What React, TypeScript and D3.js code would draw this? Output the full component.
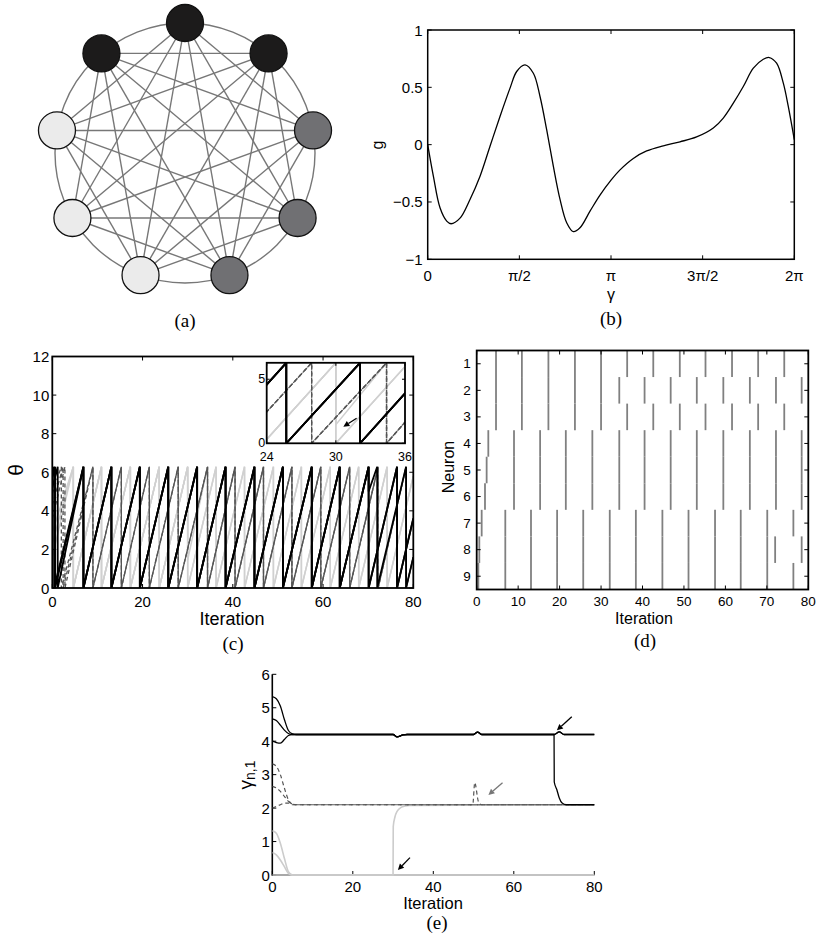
import React from "react";
import * as d3 from "d3";

const FONT = "'Liberation Sans', Arial, Helvetica, sans-serif";
const SERIF = "'Liberation Serif', 'Times New Roman', serif";
const TWO_PI = 2 * Math.PI;

// ---------- (a) network ----------
const nodeFills = ["#1c1b1b", "#1c1b1b", "#707073", "#707073", "#707073", "#ebebeb", "#ebebeb", "#ebebeb", "#1c1b1b"];

// ---------- (b) coupling function g(γ) ----------
const gGamma = [0, 0.097, 0.211, 0.326, 0.4, 0.554, 0.725, 0.897, 1.068, 1.239, 1.411, 1.525, 1.668, 1.811, 1.925, 2.039, 2.153, 2.268, 2.382, 2.496, 2.61, 2.782, 2.953, 3.142, 3.296, 3.524, 3.753, 4.038, 4.324, 4.609, 4.895, 5.066, 5.238, 5.409, 5.581, 5.752, 5.855, 5.98, 6.095, 6.18, 6.283];
const gValue = [0, -0.275, -0.551, -0.667, -0.69, -0.641, -0.478, -0.275, -0.014, 0.246, 0.493, 0.638, 0.696, 0.623, 0.42, 0.13, -0.188, -0.478, -0.681, -0.759, -0.725, -0.58, -0.44, -0.31, -0.22, -0.12, -0.055, -0.01, 0.025, 0.067, 0.145, 0.232, 0.362, 0.507, 0.667, 0.745, 0.76, 0.71, 0.536, 0.333, 0.043];
const bXTicks = [0, Math.PI / 2, Math.PI, (3 * Math.PI) / 2, 2 * Math.PI];
const bXTickLabels = ["0", "π/2", "π", "3π/2", "2π"];
const bYTicks = [-1, -0.5, 0, 0.5, 1];
const bYTickLabels = ["−1", "−0.5", "0", "0.5", "1"];

// ---------- (c)/(d) neuron phases & firing times ----------
// group: 0 = light grey, 1 = dashed grey, 2 = black
const neuronGroup = [0, 0, 0, 1, 1, 1, 2, 2, 2];
const theta0 = [1.6, 2.9, 2.3, 3.6, 4.3, 4.9, 5.2, 5.7, 5.9];
const thetaEnd = [5.8, 1.6, 5.8, 1.6, 1.6, 1.6, 3.6, 1.6, 3.6];
const spikeTimes: number[][] = [
  [4.66, 10.9, 17.3, 23.7, 30.0, 36.3, 42.6, 49.0, 55.2, 61.6, 67.9, 74.2],
  [4.66, 10.9, 17.3, 23.7, 30.0, 34.4, 40.5, 46.8, 53.1, 59.5, 65.9, 72.2, 78.4],
  [4.66, 10.9, 17.3, 23.7, 30.0, 36.3, 42.6, 49.0, 55.2, 61.6, 67.9, 74.2],
  [2.8, 9.0, 15.3, 21.5, 27.9, 34.4, 40.5, 46.8, 53.1, 59.5, 65.9, 72.2, 78.4],
  [2.4, 9.0, 15.3, 21.5, 27.9, 34.4, 40.5, 46.8, 53.1, 59.5, 65.9, 72.2, 78.4],
  [2.0, 9.0, 15.3, 21.5, 27.9, 34.4, 40.5, 46.8, 53.1, 59.5, 65.9, 72.2, 78.4],
  [1.2, 6.9, 13.1, 19.4, 25.7, 32.1, 38.4, 44.8, 51.1, 57.5, 63.7, 70.1, 76.4],
  [0.63, 6.9, 13.1, 19.4, 25.7, 32.1, 38.4, 44.8, 51.1, 57.5, 63.7, 70.1, 72.0, 78.4],
  [0.4, 6.9, 13.1, 19.4, 25.7, 32.1, 38.4, 44.8, 51.1, 57.5, 63.7, 70.1, 76.4],
];
// [neuron index, spike time, phase after reset]
const resetEvents: [number, number, number][] = [
  [1, 30.0, 1.45],
  [7, 70.1, 5.0],
];
const cXTicks = [0, 20, 40, 60, 80];
const cYTicks = [0, 2, 4, 6, 8, 10, 12];
const insetXTicks = [24, 30, 36];
const insetYTicks = [0, 5];
const insetArrow = { from: [31.8, 1.95], to: [30.65, 1.3] };

const dXTicks = [0, 10, 20, 30, 40, 50, 60, 70, 80];
const dYTicks = [1, 2, 3, 4, 5, 6, 7, 8, 9];

// ---------- (e) phase differences γ_{n,1} ----------
const eBlack: [number, number][][] = [
  [[0, 5.33], [1, 5.27], [2, 5.05], [3, 4.65], [4, 4.32], [5, 4.22], [6, 4.2], [30, 4.2], [31, 4.13], [32.5, 4.19], [33.5, 4.2], [50, 4.2], [51, 4.27], [52, 4.2], [70, 4.2], [71.3, 4.28], [72.5, 4.2], [80, 4.2]],
  [[0, 4.67], [1, 4.62], [2, 4.48], [3, 4.33], [4, 4.23], [5, 4.2], [30, 4.2], [31, 4.13], [32.5, 4.19], [33.5, 4.2], [50, 4.2], [51, 4.27], [52, 4.2], [70, 4.2], [70.05, 2.78], [70.7, 2.55], [71.3, 2.3], [72, 2.15], [73, 2.1], [80, 2.1]],
  [[0, 4.0], [1, 3.96], [2, 3.94], [3, 4.05], [4, 4.17], [5, 4.2], [30, 4.2], [31, 4.13], [32.5, 4.19], [33.5, 4.2], [50, 4.2], [51, 4.27], [52, 4.2], [70, 4.2], [71.3, 4.28], [72.5, 4.2], [80, 4.2]],
];
const eDashed: [number, number][][] = [
  [[0, 3.32], [1, 3.25], [2, 3.0], [3, 2.6], [4, 2.25], [5, 2.12], [6, 2.1], [80, 2.1]],
  [[0, 2.65], [1, 2.6], [2, 2.5], [3, 2.35], [4, 2.2], [5, 2.12], [6, 2.1], [49.8, 2.1], [50.3, 2.76], [51.2, 2.2], [52, 2.1], [80, 2.1]],
  [[0, 2.0], [1, 2.05], [2, 2.1], [3, 2.15], [4, 2.15], [5, 2.1], [80, 2.1]],
];
const eLight: [number, number][][] = [
  [[0, 0], [80, 0]],
  [[0, 1.32], [1, 1.25], [2, 0.95], [3, 0.5], [4, 0.1], [5, 0], [30, 0], [30.05, 1.45], [30.5, 1.75], [31, 1.9], [32, 2.02], [33, 2.06], [34, 2.08], [80, 2.1]],
  [[0, 0.67], [1, 0.6], [2, 0.45], [3, 0.25], [4, 0.05], [5, 0], [80, 0]],
];
const eXTicks = [0, 20, 40, 60, 80];
const eYTicks = [0, 1, 2, 3, 4, 5, 6];
const eArrows = [
  { from: [74.4, 4.73], to: [70.7, 4.33], color: "#000" },
  { from: [57.2, 2.76], to: [53.7, 2.39], color: "#777" },
  { from: [34.2, 0.52], to: [31.2, 0.15], color: "#000" },
];

type Scale = d3.ScaleLinear<number, number>;

function Axes(props: {
  x: Scale; y: Scale; xTicks: number[]; yTicks: number[]; xLabels: string[]; yLabels: string[];
  fontSize: number; xLabelDy: number; yLabelDx: number; tl?: number; sw?: number; box?: boolean;
}) {
  const { x, y, xTicks, yTicks, xLabels, yLabels, fontSize, xLabelDy, yLabelDx, tl = 4, sw = 1.5, box = true } = props;
  const [xa, xb] = x.range();
  const [ya, yb] = y.range();
  const left = Math.min(xa, xb), right = Math.max(xa, xb), top = Math.min(ya, yb), bottom = Math.max(ya, yb);
  return (
    <g>
      {xTicks.map((t, i) => (
        <g key={"xt" + i}>
          <line x1={x(t)} x2={x(t)} y1={bottom} y2={bottom - tl} stroke="#000" strokeWidth={1} />
          {box && <line x1={x(t)} x2={x(t)} y1={top} y2={top + tl} stroke="#000" strokeWidth={1} />}
          <text x={x(t)} y={bottom + xLabelDy} textAnchor="middle" dominantBaseline="central" fontSize={fontSize} fontFamily={FONT}>{xLabels[i]}</text>
        </g>
      ))}
      {yTicks.map((t, i) => (
        <g key={"yt" + i}>
          <line x1={left} x2={left + tl} y1={y(t)} y2={y(t)} stroke="#000" strokeWidth={1} />
          {box && <line x1={right} x2={right - tl} y1={y(t)} y2={y(t)} stroke="#000" strokeWidth={1} />}
          <text x={left - yLabelDx} y={y(t)} textAnchor="end" dominantBaseline="central" fontSize={fontSize} fontFamily={FONT}>{yLabels[i]}</text>
        </g>
      ))}
      {box ? (
        <rect x={left} y={top} width={right - left} height={bottom - top} fill="none" stroke="#000" strokeWidth={sw} />
      ) : (
        <path d={`M${left},${top}V${bottom}H${right}`} fill="none" stroke="#000" strokeWidth={sw} />
      )}
    </g>
  );
}

function Arrow({ x1, y1, x2, y2, color }: { x1: number; y1: number; x2: number; y2: number; color: string }) {
  const ang = Math.atan2(y2 - y1, x2 - x1);
  const hl = 6, hw = 3;
  const bx = x2 - hl * Math.cos(ang), by = y2 - hl * Math.sin(ang);
  const px = -Math.sin(ang) * hw, py = Math.cos(ang) * hw;
  return (
    <g>
      <line x1={x1} y1={y1} x2={bx} y2={by} stroke={color} strokeWidth={1.3} />
      <polygon points={`${x2},${y2} ${bx + px},${by + py} ${bx - px},${by - py}`} fill={color} />
    </g>
  );
}

const groupStyle = [
  { stroke: "#d0d0d0", width: 1.5, dash: undefined as string | undefined },
  { stroke: "#555555", width: 1.3, dash: "4 3" },
  { stroke: "#000", width: 1.8, dash: undefined as string | undefined },
];

function phasePoints(n: number): [number, number][] {
  const pts: [number, number][] = [[0, theta0[n]]];
  spikeTimes[n].forEach((s) => {
    pts.push([s, TWO_PI]);
    const ev = resetEvents.find((e) => e[0] === n && e[1] === s);
    pts.push([s, ev ? ev[2] : 0]);
  });
  pts.push([80, thetaEnd[n]]);
  return pts;
}

export default function App() {
  // (a)
  const aCx = 185, aCy = 153, aR = 130, aNodeR = 18.5;
  const nodes = nodeFills.map((fill, k) => {
    const ang = ((k * 360) / nodeFills.length) * (Math.PI / 180);
    return { fill, x: aCx + aR * Math.sin(ang), y: aCy - aR * Math.cos(ang) };
  });
  const edges: [number, number][] = [];
  for (let i = 0; i < nodes.length; i++)
    for (let j = i + 1; j < nodes.length; j++) {
      const d = j - i;
      if (d === 1 || d === nodes.length - 1) continue;
      edges.push([i, j]);
    }

  // (b)
  const bx = d3.scaleLinear().domain([0, TWO_PI]).range([427.7, 794.3]);
  const by = d3.scaleLinear().domain([-1, 1]).range([259.3, 30]);
  const gPath = d3.line<number>().x((_, i) => bx(gGamma[i])).y((d) => by(d)).curve(d3.curveCatmullRom.alpha(0.5))(gValue) || "";

  // (c)
  const cx = d3.scaleLinear().domain([0, 80]).range([52.3, 413.3]);
  const cy = d3.scaleLinear().domain([0, 12]).range([588, 356.5]);
  const ix = d3.scaleLinear().domain([24, 36]).range([266.7, 405]);
  const iy = d3.scaleLinear().domain([0, TWO_PI]).range([443.3, 362.8]);
  const order = [0, 1, 2, 3, 4, 5, 6, 7, 8];
  const mainLine = d3.line<[number, number]>().x((d) => cx(d[0])).y((d) => cy(d[1]));
  const insetLine = d3.line<[number, number]>().x((d) => ix(d[0])).y((d) => iy(d[1]));

  // (d)
  const dx = d3.scaleLinear().domain([0, 80]).range([476.7, 808.3]);
  const dy = d3.scaleLinear().domain([0.5, 9.5]).range([350.5, 589.5]);

  // (e)
  const ex = d3.scaleLinear().domain([0, 80]).range([272.3, 594.3]);
  const ey = d3.scaleLinear().domain([0, 6]).range([875, 674.3]);
  const eLineGen = d3.line<[number, number]>().x((d) => ex(d[0])).y((d) => ey(d[1])).curve(d3.curveMonotoneX);

  return (
    <div style={{ position: "absolute", left: 0, top: 0 }}>
      <svg width={818} height={935} style={{ display: "block", background: "#fff" }}>
        <defs>
          <clipPath id="cclip"><rect x={52.3} y={356.5} width={361} height={231.5} /></clipPath>
          <clipPath id="iclip"><rect x={266.7} y={362.8} width={138.3} height={80.5} /></clipPath>
          <clipPath id="eclip"><rect x={272.3} y={660} width={330} height={216} /></clipPath>
        </defs>

        {/* ---------- (a) ---------- */}
        <g>
          <circle cx={aCx} cy={aCy} r={aR} fill="none" stroke="#777" strokeWidth={1.4} />
          {edges.map(([i, j], k) => (
            <line key={k} x1={nodes[i].x} y1={nodes[i].y} x2={nodes[j].x} y2={nodes[j].y} stroke="#777" strokeWidth={1.4} />
          ))}
          {nodes.map((n, k) => (
            <circle key={k} cx={n.x} cy={n.y} r={aNodeR} fill={n.fill} stroke="#111" strokeWidth={1.3} />
          ))}
          <text x={185} y={320} textAnchor="middle" dominantBaseline="central" fontSize={19} fontFamily={SERIF}>(a)</text>
        </g>

        {/* ---------- (b) ---------- */}
        <g>
          <path d={gPath} fill="none" stroke="#000" strokeWidth={1.3} />
          <Axes x={bx} y={by} xTicks={bXTicks} yTicks={bYTicks} xLabels={bXTickLabels} yLabels={bYTickLabels}
            fontSize={15} xLabelDy={16} yLabelDx={5} />
          <text x={611} y={294} textAnchor="middle" dominantBaseline="central" fontSize={16} fontFamily={FONT}>γ</text>
          <text transform="translate(377,145) rotate(-90)" textAnchor="middle" dominantBaseline="central" fontSize={16} fontFamily={FONT}>g</text>
          <text x={611} y={318} textAnchor="middle" dominantBaseline="central" fontSize={19} fontFamily={SERIF}>(b)</text>
        </g>

        {/* ---------- (c) ---------- */}
        <g>
          <g clipPath="url(#cclip)">
            {order.map((n) => {
              const st = groupStyle[neuronGroup[n]];
              return (
                <path key={n} d={mainLine(phasePoints(n)) || ""} fill="none" stroke={st.stroke}
                  strokeWidth={st.width} strokeDasharray={st.dash} />
              );
            })}
          </g>
          <Axes x={cx} y={cy} xTicks={cXTicks} yTicks={cYTicks} xLabels={cXTicks.map(String)} yLabels={cYTicks.map(String)}
            fontSize={15} xLabelDy={13} yLabelDx={3} sw={1.8} />
          {/* inset */}
          <rect x={266.7} y={362.8} width={138.3} height={80.5} fill="#fff" />
          <g clipPath="url(#iclip)">
            {order.map((n) => {
              const st = groupStyle[neuronGroup[n]];
              return (
                <path key={n} d={insetLine(phasePoints(n)) || ""} fill="none" stroke={st.stroke}
                  strokeWidth={st.width} strokeDasharray={st.dash} />
              );
            })}
          </g>
          <Axes x={ix} y={iy} xTicks={insetXTicks} yTicks={insetYTicks} xLabels={insetXTicks.map(String)} yLabels={insetYTicks.map(String)}
            fontSize={12.5} xLabelDy={13.5} yLabelDx={1.5} tl={3} sw={1.8} />
          <Arrow x1={ix(insetArrow.from[0])} y1={iy(insetArrow.from[1])} x2={ix(insetArrow.to[0])} y2={iy(insetArrow.to[1])} color="#000" />
          <text x={232} y={619} textAnchor="middle" dominantBaseline="central" fontSize={18} fontFamily={FONT}>Iteration</text>
          <text transform="translate(15,470) rotate(-90)" textAnchor="middle" dominantBaseline="central" fontSize={21} fontFamily={FONT}>θ</text>
          <text x={233} y={643} textAnchor="middle" dominantBaseline="central" fontSize={19} fontFamily={SERIF}>(c)</text>
        </g>

        {/* ---------- (d) ---------- */}
        <g>
          {spikeTimes.map((times, n) =>
            times.map((s, k) => (
              <line key={n + "-" + k} x1={dx(s)} x2={dx(s)} y1={dy(n + 1 - 0.5)} y2={dy(n + 1 + 0.5)} stroke="#808080" strokeWidth={1.8} />
            ))
          )}
          <Axes x={dx} y={dy} xTicks={dXTicks} yTicks={dYTicks} xLabels={dXTicks.map(String)} yLabels={dYTicks.map(String)}
            fontSize={13.5} xLabelDy={11.5} yLabelDx={6} sw={1.8} />
          <text x={644} y={618} textAnchor="middle" dominantBaseline="central" fontSize={16} fontFamily={FONT}>Iteration</text>
          <text transform="translate(448,467) rotate(-90)" textAnchor="middle" dominantBaseline="central" fontSize={16} fontFamily={FONT}>Neuron</text>
          <text x={645} y={640} textAnchor="middle" dominantBaseline="central" fontSize={19} fontFamily={SERIF}>(d)</text>
        </g>

        {/* ---------- (e) ---------- */}
        <g>
          <Axes x={ex} y={ey} xTicks={eXTicks} yTicks={eYTicks} xLabels={eXTicks.map(String)} yLabels={eYTicks.map(String)}
            fontSize={15} xLabelDy={11} yLabelDx={2.5} sw={1.6} box={false} />
          <g clipPath="url(#eclip)">
            {eLight.map((s, i) => (
              <path key={"l" + i} d={eLineGen(s) || ""} fill="none" stroke="#cccccc" strokeWidth={1.6} />
            ))}
            {eDashed.map((s, i) => (
              <path key={"d" + i} d={eLineGen(s) || ""} fill="none" stroke="#555555" strokeWidth={1.2} strokeDasharray="4 3" />
            ))}
            {eBlack.map((s, i) => (
              <path key={"b" + i} d={eLineGen(s) || ""} fill="none" stroke="#000" strokeWidth={1.3} />
            ))}
          </g>
          {eArrows.map((a, i) => (
            <Arrow key={i} x1={ex(a.from[0])} y1={ey(a.from[1])} x2={ex(a.to[0])} y2={ey(a.to[1])} color={a.color} />
          ))}
          <text x={433} y={903} textAnchor="middle" dominantBaseline="central" fontSize={16.5} fontFamily={FONT}>Iteration</text>
          <text transform="translate(245,775) rotate(-90)" textAnchor="middle" dominantBaseline="central" fontFamily={FONT}>
            <tspan fontSize={19}>γ</tspan>
            <tspan fontSize={14} dy={5}>n,1</tspan>
          </text>
          <text x={437} y={922} textAnchor="middle" dominantBaseline="central" fontSize={19} fontFamily={SERIF}>(e)</text>
        </g>
      </svg>
    </div>
  );
}
